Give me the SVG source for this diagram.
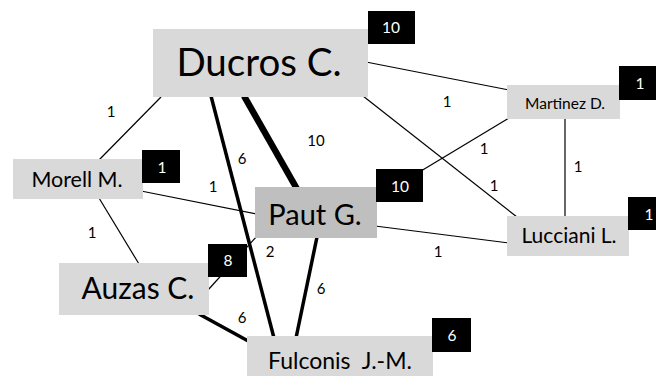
<svg xmlns="http://www.w3.org/2000/svg" width="656" height="376" viewBox="0 0 656 376">
<style>
.box{fill:#d9d9d9}
.boxd{fill:#bfbfbf}
.badge{fill:#000}
.nt{font-family:Lato,"Liberation Sans",sans-serif;fill:#000;text-anchor:middle;white-space:pre}
.bt{font-family:Lato,"Liberation Sans",sans-serif;fill:#fff;text-anchor:middle;font-size:15.5px}
.el{font-family:Lato,"Liberation Sans",sans-serif;fill:#000;text-anchor:middle;font-size:15px}
.w1{stroke:#000;stroke-width:1.2;fill:none}
.w6{stroke:#000;stroke-width:3.5;fill:none}
.w10{stroke:#000;stroke-width:6.5;fill:none}
</style>
<rect width="656" height="376" fill="#fff"/>
<g id="connectors">
<line class="w1" x1="161" y1="97" x2="99" y2="160"/>
<line class="w6" x1="211" y1="96" x2="274" y2="338"/>
<line class="w10" x1="244" y1="96" x2="297" y2="189"/>
<line class="w1" x1="366" y1="62" x2="509" y2="90"/>
<line class="w1" x1="363" y1="96" x2="517" y2="217"/>
<line class="w1" x1="509" y1="118" x2="421" y2="171"/>
<line class="w1" x1="565" y1="118" x2="565" y2="217"/>
<line class="w1" x1="141" y1="191" x2="257" y2="214"/>
<line class="w1" x1="375" y1="226" x2="509" y2="243"/>
<line class="w1" x1="99" y1="198" x2="139" y2="264"/>
<line class="w1" x1="257" y1="236" x2="208" y2="290"/>
<line class="w6" x1="199" y1="314" x2="250" y2="342"/>
<line class="w6" x1="317" y1="237" x2="296" y2="338"/>
<text class="el" x="111" y="117">1</text>
<text class="el" x="242" y="164">6</text>
<text class="el" x="316" y="146">10</text>
<text class="el" x="447" y="107">1</text>
<text class="el" x="484" y="154">1</text>
<text class="el" x="578" y="172">1</text>
<text class="el" x="494" y="191">1</text>
<text class="el" x="213" y="192">1</text>
<text class="el" x="438" y="257">1</text>
<text class="el" x="92" y="238">1</text>
<text class="el" x="270" y="257">2</text>
<text class="el" x="242" y="323">6</text>
<text class="el" x="321" y="294">6</text>
</g>
<g id="ducros">
<rect class="box" x="153" y="29" width="215" height="68"/>
<text class="nt" x="259" y="76" font-size="38.5">Ducros C.</text>
<rect class="badge" x="368" y="11" width="47" height="33"/>
<text class="bt" x="391" y="32.5">10</text>
</g>
<g id="martinez">
<rect class="box" x="507" y="85" width="113" height="34"/>
<text class="nt" x="565" y="109" font-size="15.5">Martinez D.</text>
<rect class="badge" x="619" y="66" width="47" height="34"/>
<text class="bt" x="640" y="89">1</text>
</g>
<g id="morell">
<rect class="box" x="13" y="159" width="130" height="40"/>
<text class="nt" x="77" y="187" font-size="21.5">Morell M.</text>
<rect class="badge" x="142" y="150" width="38" height="33"/>
<text class="bt" x="162" y="173">1</text>
</g>
<g id="paut">
<rect class="boxd" x="255" y="187" width="122" height="51"/>
<text class="nt" x="315" y="225" font-size="29">Paut G.</text>
<rect class="badge" x="376" y="169" width="47" height="33"/>
<text class="bt" x="400" y="192">10</text>
</g>
<g id="lucciani">
<rect class="box" x="507" y="216" width="122" height="40"/>
<text class="nt" x="569" y="243" font-size="21">Lucciani L.</text>
<rect class="badge" x="628" y="197" width="47" height="33"/>
<text class="bt" x="649" y="220">1</text>
</g>
<g id="auzas">
<rect class="box" x="59" y="263" width="150" height="52"/>
<text class="nt" x="138" y="299" font-size="30">Auzas C.</text>
<rect class="badge" x="208" y="244" width="39" height="33"/>
<text class="bt" x="228" y="266">8</text>
</g>
<g id="fulconis">
<rect class="box" x="247" y="336" width="186" height="42"/>
<text class="nt" x="340" y="369" font-size="23">Fulconis  J.-M.</text>
<rect class="badge" x="432" y="318" width="39" height="34"/>
<text class="bt" x="452" y="341">6</text>
</g>
</svg>
